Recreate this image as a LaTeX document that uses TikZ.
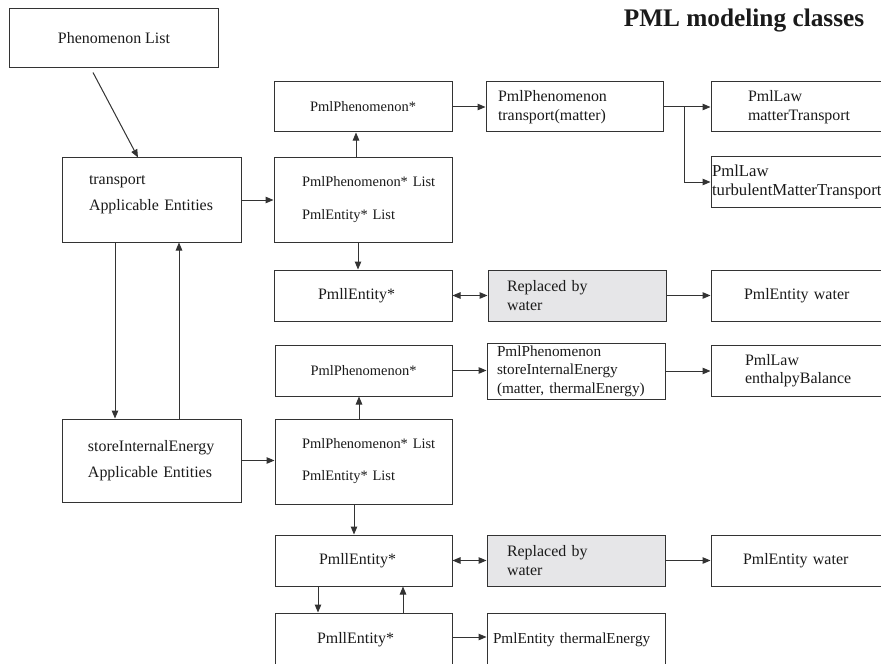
\documentclass[tikz,border=0pt]{standalone}
\usepackage{fontspec}
\setmainfont{Liberation Serif}
\usetikzlibrary{arrows.meta,calc}
\definecolor{lc}{HTML}{333333}
\definecolor{tc}{HTML}{1A1A1A}
\definecolor{gf}{HTML}{E6E6E8}
\newcommand\fsA{\fontsize{16}{18.5}\selectfont}
\newcommand\fsB{\fontsize{14.5}{17}\selectfont}
\newcommand\fsC{\fontsize{15.3}{18.5}\selectfont}
\newcommand\fsD{\fontsize{16.8}{18.5}\selectfont}
\begin{document}
\begin{tikzpicture}[x=1bp,y=-1bp,
  bx/.style={draw=lc, line width=1bp, rectangle, inner ysep=0pt, text=tc, font=\fsA},
  gbx/.style={bx, fill=gf},
  ar/.style={draw=lc, line width=1bp, -{Triangle[length=8bp,width=6.5bp]}},
  dar/.style={draw=lc, line width=1bp, {Triangle[length=8bp,width=6.5bp]}-{Triangle[length=8bp,width=6.5bp]}}]
\useasboundingbox (0,0) rectangle (881,664);
\clip (0,0) rectangle (881,664);
\fill[white] (0,0) rectangle (881,664);

\node[font=\bfseries\fontsize{25.4}{28}\selectfont, text=tc] (ttl) at (744,21) {PML modeling classes};

% left column
\node[bx, minimum width=208bp, minimum height=59bp] (phl) at (114,38.5) {Phenomenon List};
\node[bx, minimum width=178bp, minimum height=84bp, inner xsep=26bp, text width=126bp, align=left] (tr) at (152,200)
  {\mbox{transport}\\[7.5bp]\mbox{Applicable Entities}\rule[-14bp]{0pt}{14bp}};
\node[bx, minimum width=178bp, minimum height=83bp, inner xsep=25bp, text width=128bp, align=left] (sie) at (152,460.5)
  {\mbox{storeInternalEnergy}\\[7.5bp]\mbox{Applicable Entities}};

% upper group
\node[bx, font=\fsB, minimum width=178bp, minimum height=50bp] (pp1) at (363,107) {PmlPhenomenon*};
\node[bx, font=\fsB, minimum width=178bp, minimum height=84bp, inner xsep=28bp, text width=122bp, align=left] (pl1) at (363,200)
  {\mbox{PmlPhenomenon* List}\\[16bp]\mbox{PmlEntity* List}};
\node[bx, minimum width=178bp, minimum height=51bp, inner xsep=44bp, text width=90bp, align=left] (pe1) at (363,295.5) {\mbox{PmllEntity*}};
\node[bx, minimum width=177bp, minimum height=50bp, inner xsep=12bp, text width=153bp, align=left] (ph1) at (574.5,107)
  {\mbox{PmlPhenomenon}\\\mbox{transport(matter)}};
\node[bx, minimum width=189bp, minimum height=50bp, inner xsep=37bp, text width=115bp, align=left] (lmt) at (805.5,107)
  {\mbox{PmlLaw}\\\mbox{matterTransport}};
\node[bx, font=\fsD, minimum width=189bp, minimum height=50bp, inner xsep=1bp, text width=187bp, align=left] (ltm) at (805.5,182)
  {\mbox{PmlLaw}\\\mbox{turbulentMatterTransport}};
\node[gbx, minimum width=178bp, minimum height=51bp, inner xsep=19bp, text width=140bp, align=left] (rw1) at (577,295.5)
  {\mbox{Replaced by}\\\mbox{water}};
\node[bx, minimum width=189bp, minimum height=51bp, inner xsep=33bp, text width=123bp, align=left] (pw1) at (805.5,295.5)
  {\mbox{PmlEntity water}};

% lower group
\node[bx, font=\fsB, minimum width=177bp, minimum height=51bp] (pp2) at (363.5,370.5) {PmlPhenomenon*};
\node[bx, font=\fsB, minimum width=177bp, minimum height=85bp, inner xsep=27bp, text width=123bp, align=left] (pl2) at (363.5,461.5)
  {\mbox{PmlPhenomenon* List}\\[15bp]\mbox{PmlEntity* List}};
\node[bx, minimum width=177bp, minimum height=51bp, inner xsep=44bp, text width=89bp, align=left] (pe2) at (363.5,560.5) {\mbox{PmllEntity*}};
\node[bx, minimum width=177bp, minimum height=54bp, inner xsep=42bp, text width=93bp, align=left] (pe3) at (363.5,640) {\mbox{PmllEntity*}};
\node[bx, font=\fsC, minimum width=178bp, minimum height=56bp, inner xsep=10bp, text width=158bp, align=left] (ph2) at (576,371)
  {\mbox{PmlPhenomenon}\\\mbox{storeInternalEnergy}\\\mbox{(matter, thermalEnergy)}};
\node[bx, minimum width=189bp, minimum height=51bp, inner xsep=34bp, text width=121bp, align=left] (lea) at (805.5,370.5)
  {\mbox{PmlLaw}\\\mbox{enthalpyBalance}};
\node[gbx, minimum width=178bp, minimum height=51bp, inner xsep=20bp, text width=138bp, align=left] (rw2) at (576,560.5)
  {\mbox{Replaced by}\\\mbox{water}};
\node[bx, minimum width=189bp, minimum height=51bp, inner xsep=32bp, text width=125bp, align=left] (pw2) at (805.5,560.5)
  {\mbox{PmlEntity water}};
\node[bx, font=\fsC, minimum width=178bp, minimum height=54bp, inner xsep=6bp, text width=166bp, align=left] (pte) at (576,640)
  {\mbox{PmlEntity thermalEnergy}};

% connectors
\draw[ar] ([xshift=-21bp,yshift=-4bp]phl.south) -- ([xshift=-14bp]tr.north);
\draw[ar] ([xshift=-37bp]tr.south) -- ([xshift=-37bp]sie.north);
\draw[ar] ([xshift=27bp]sie.north) -- ([xshift=27bp]tr.south);
\draw[ar] (tr.east) -- (pl1.west);
\draw[ar] (sie.east) -- (sie.east -| pl2.west);

\draw[ar] ([xshift=-7bp]pl1.north) -- ([xshift=-7bp]pp1.south);
\draw[ar] ([xshift=-5bp]pl1.south) -- ([xshift=-5bp]pe1.north);
\draw[dar] (pe1.east) -- (rw1.west);
\draw[ar] (rw1.east) -- (pw1.west);
\draw[ar] (pp1.east) -- (ph1.west);
\coordinate (br1) at ($(ph1.east)+(21,0)$);
\draw[ar] (ph1.east) -- (lmt.west);
\draw[ar] (br1) |- (ltm.west);

\draw[ar] ([xshift=-4.5bp]pl2.north) -- ([xshift=-4.5bp]pp2.south);
\draw[ar] ([xshift=-9.5bp]pl2.south) -- ([xshift=-9.5bp]pe2.north);
\draw[ar] (pp2.east) -- (pp2.east -| ph2.west);
\draw[ar] (ph2.east) -- (ph2.east -| lea.west);
\draw[dar] (pe2.east) -- (rw2.west);
\draw[ar] (rw2.east) -- (pw2.west);
\draw[ar] ([xshift=-45.5bp]pe2.south) -- ([xshift=-45.5bp]pe3.north);
\draw[ar] ([xshift=39.5bp]pe3.north) -- ([xshift=39.5bp]pe2.south);
\draw[ar] ([yshift=3bp]pe3.east) -- ([yshift=3bp]pe3.east -| pte.west);
\end{tikzpicture}
\end{document}
